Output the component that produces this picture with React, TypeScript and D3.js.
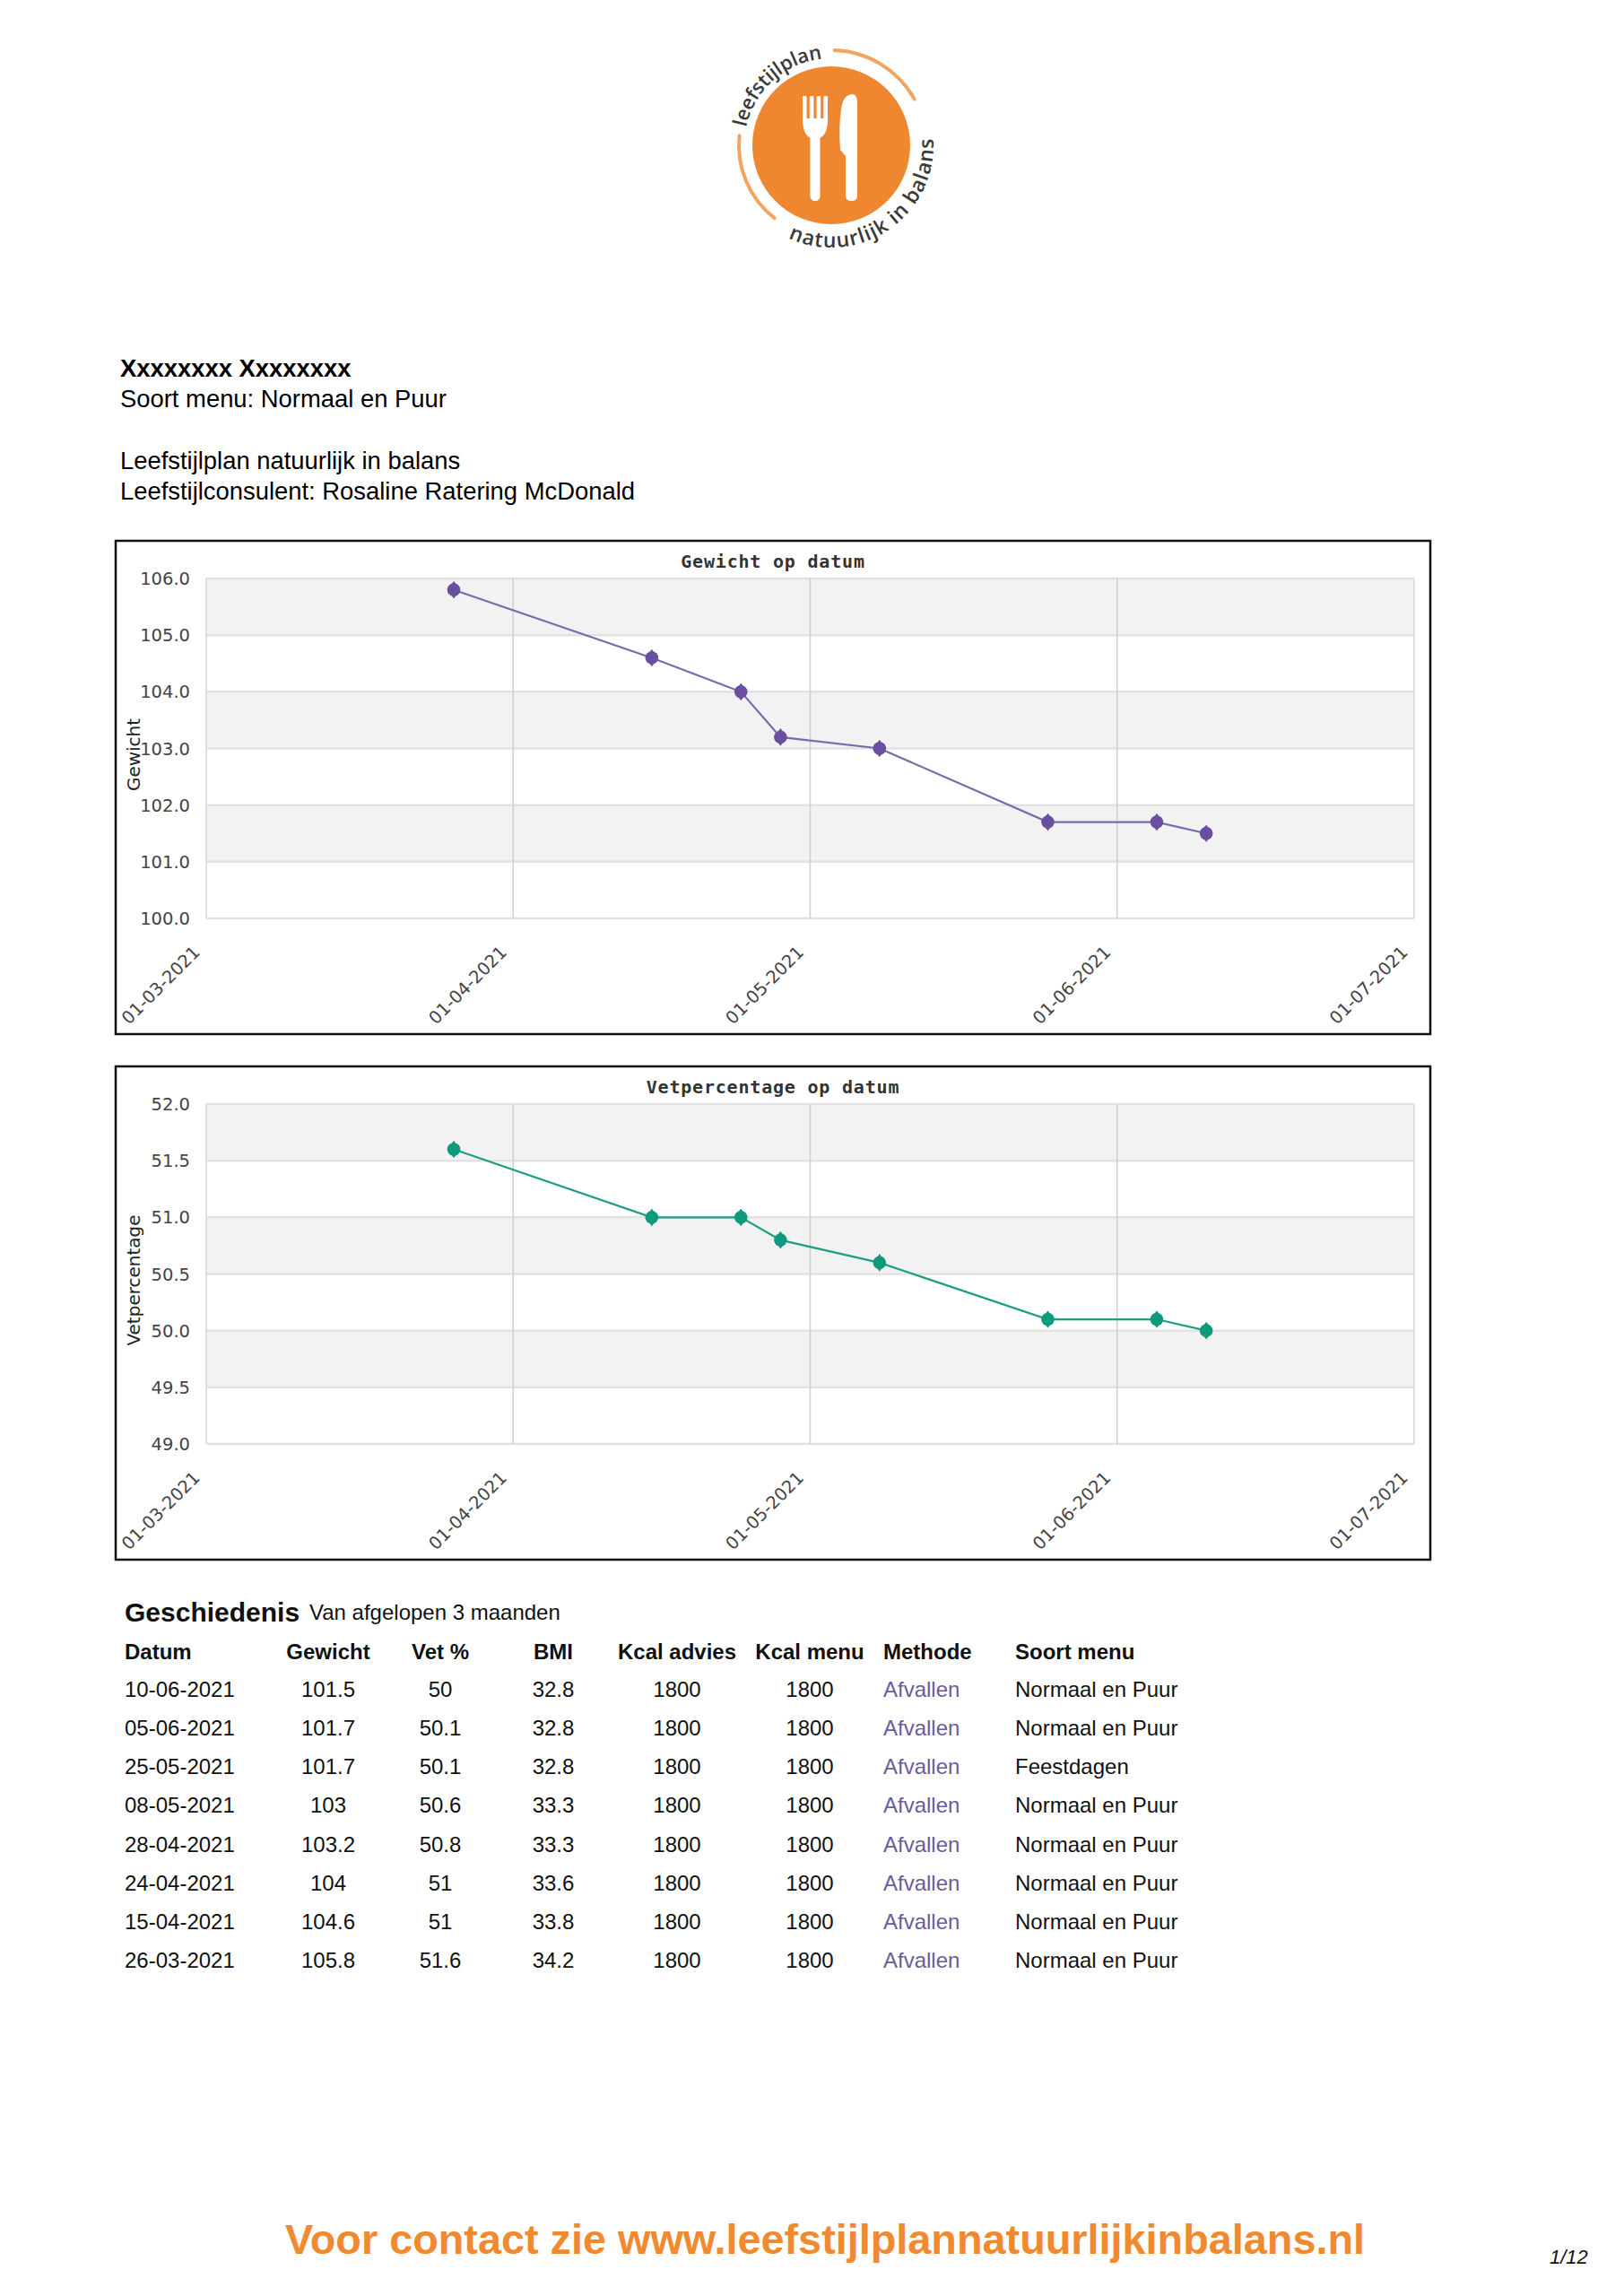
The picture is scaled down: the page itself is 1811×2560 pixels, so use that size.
import React from 'react';
import * as d3 from 'd3';

// ---------- data ----------
const dates = ['26-03-2021', '15-04-2021', '24-04-2021', '28-04-2021', '08-05-2021', '25-05-2021', '05-06-2021', '10-06-2021'];
const weights = [105.8, 104.6, 104, 103.2, 103, 101.7, 101.7, 101.5];
const fatPct = [51.6, 51, 51, 50.8, 50.6, 50.1, 50.1, 50];
const bmiValues = [34.2, 33.8, 33.6, 33.3, 33.3, 32.8, 32.8, 32.8];
const kcalAdvies = [1800, 1800, 1800, 1800, 1800, 1800, 1800, 1800];
const kcalMenu = [1800, 1800, 1800, 1800, 1800, 1800, 1800, 1800];
const methods = ['Afvallen', 'Afvallen', 'Afvallen', 'Afvallen', 'Afvallen', 'Afvallen', 'Afvallen', 'Afvallen'];
const menus = ['Normaal en Puur', 'Normaal en Puur', 'Normaal en Puur', 'Normaal en Puur', 'Normaal en Puur', 'Feestdagen', 'Normaal en Puur', 'Normaal en Puur'];

const weightTicks = [100, 101, 102, 103, 104, 105, 106];
const fatTicks = [49, 49.5, 50, 50.5, 51, 51.5, 52];
const monthTicks = ['01-03-2021', '01-04-2021', '01-05-2021', '01-06-2021', '01-07-2021'];
const tableHeaders = ['Datum', 'Gewicht', 'Vet %', 'BMI', 'Kcal advies', 'Kcal menu', 'Methode', 'Soort menu'];

const parse = d3.utcParse('%d-%m-%Y');
const fmtDate = d3.utcFormat('%d-%m-%Y');

const SANS = '"Liberation Sans", Arial, sans-serif';
const DJ = '"DejaVu Sans", sans-serif';
const MONO = '"DejaVu Sans Mono", monospace';

// ---------- chart ----------
type ChartProps = {
  frameTop: number;
  title: string;
  label: string;
  ticks: number[];
  values: number[];
  lineColor: string;
  markerColor: string;
};

function LineChart({ frameTop, title, label, ticks, values, lineColor, markerColor }: ChartProps) {
  const fx0 = 129, fx1 = 1595, fh = 550;
  const plotL = 230, plotR = 1577;
  const plotT = frameTop + 42, plotB = frameTop + 421;
  const x = d3.scaleUtc().domain([parse(monthTicks[0])!, parse(monthTicks[monthTicks.length - 1])!]).range([plotL, plotR]);
  const y = d3.scaleLinear().domain([ticks[0], ticks[ticks.length - 1]]).range([plotB, plotT]);
  const pts = values.map((v, i) => [x(parse(dates[i])!), y(v)] as [number, number]);
  const line = d3.line();
  const n = ticks.length;
  const fmt = d3.format('.1f');
  return (
    <g>
      <rect x={fx0} y={frameTop} width={fx1 - fx0} height={fh} fill="#fff" stroke="#111" strokeWidth={2.5} />
      {ticks.slice(0, -1).map((t, i) => {
        const gray = (n - 2 - i) % 2 === 0;
        return gray ? (
          <rect key={'b' + i} x={plotL} y={y(ticks[i + 1])} width={plotR - plotL} height={y(ticks[i]) - y(ticks[i + 1])} fill="#f2f2f2" />
        ) : null;
      })}
      {ticks.map((t, i) => (
        <line key={'h' + i} x1={plotL} x2={plotR} y1={y(t)} y2={y(t)} stroke="#e2e2e2" strokeWidth={2.5} />
      ))}
      {monthTicks.map((m, i) => (
        <line key={'v' + i} x1={x(parse(m)!)} x2={x(parse(m)!)} y1={plotT} y2={plotB} stroke={i === 0 || i === monthTicks.length - 1 ? '#e0e0e0' : '#cfcfcf'} strokeWidth={i === 0 || i === monthTicks.length - 1 ? 2 : 1.5} />
      ))}
      <text x={(fx0 + fx1) / 2} y={frameTop + 30} textAnchor="middle" fontFamily={MONO} fontWeight="bold" fontSize={20} letterSpacing={0.8} fill="#333">{title}</text>
      {ticks.map((t, i) => (
        <text key={'yt' + i} x={212} y={y(t)} dy="0.36em" textAnchor="end" fontFamily={DJ} fontSize={19.5} fill="#444">{fmt(t)}</text>
      ))}
      {monthTicks.map((m, i) => (
        <text key={'xt' + i} transform={`translate(${x(parse(m)!) - 6},${plotB + 39}) rotate(-45)`} textAnchor="end" fontFamily={DJ} fontSize={19.5} fill="#444">{fmtDate(parse(m)!)}</text>
      ))}
      <text transform={`translate(156,${(plotT + plotB) / 2 + 7}) rotate(-90)`} textAnchor="middle" fontFamily={DJ} fontSize={20} fill="#222">{label}</text>
      <path d={line(pts) || ''} fill="none" stroke={lineColor} strokeWidth={2.2} />
      {pts.map((p, i) => (
        <g key={'m' + i} transform={`translate(${p[0]},${p[1]})`} fill={markerColor}>
          <circle r={7.3} />
          <path d="M0,-9.8 L6.8,0 L0,9.8 L-6.8,0 Z" />
        </g>
      ))}
    </g>
  );
}

// ---------- logo ----------
const LC = { x: 927, y: 162 };
function polar(r: number, deg: number): [number, number] {
  const a = (deg * Math.PI) / 180;
  return [LC.x + r * Math.cos(a), LC.y + r * Math.sin(a)];
}
function arcPath(r: number, a0: number, a1: number) {
  const [x0, y0] = polar(r, a0);
  const [x1, y1] = polar(r, a1);
  const sweep = a1 > a0 ? 1 : 0;
  const large = Math.abs(a1 - a0) > 180 ? 1 : 0;
  return `M${x0},${y0} A${r},${r} 0 ${large} ${sweep} ${x1},${y1}`;
}

function Logo() {
  const orange = '#ef8630';
  const tines = [895, 902.8, 910.6, 918.4];
  return (
    <g>
      <defs>
        <path id="logoTop" d={arcPath(97, 192, 268)} />
        <path id="logoBottom" d={arcPath(114, 115, -6)} />
      </defs>
      <path d={arcPath(106, 272, 331)} fill="none" stroke="#f2a55f" strokeWidth={4} strokeLinecap="round" />
      <path d={arcPath(103, 186, 128)} fill="none" stroke="#f2a55f" strokeWidth={4} strokeLinecap="round" />
      <circle cx={LC.x} cy={LC.y} r={88} fill={orange} />
      {/* fork */}
      {tines.map((t, i) => (
        <rect key={i} x={t} y={107} width={4.6} height={28} rx={1} fill="#fff" />
      ))}
      <path d="M895,132 L923.2,132 Q923.2,150 914,154 L904,154 Q895,150 895,132 Z" fill="#fff" />
      <path d="M903.5,150 L914.5,150 L914.5,218 Q914.5,224 909,224 Q903.5,224 903.5,218 Z" fill="#fff" />
      {/* knife */}
      <path d="M938,122 Q940,106 950,105 Q956,105 956,114 L956,218 Q956,224 949.5,224 Q943,224 943,218 L943,174 L937,167 Q935,142 938,122 Z" fill="#fff" />
      <text fontFamily='"Open Sans", sans-serif' fontWeight={600} fontSize={22} fill="#3a3a3a">
        <textPath href="#logoTop" textLength={122} lengthAdjust="spacing">leefstijlplan</textPath>
      </text>
      <text fontFamily='"Open Sans", sans-serif' fontWeight={600} fontSize={23} fill="#3a3a3a">
        <textPath href="#logoBottom" textLength={236} lengthAdjust="spacing">natuurlijk in balans</textPath>
      </text>
    </g>
  );
}

// ---------- table ----------
const colX = [139, 366, 491, 617, 755, 903, 985, 1132];
const colAnchor = ['start', 'middle', 'middle', 'middle', 'middle', 'middle', 'start', 'start'];

function HistoryTable() {
  const order = d3.range(dates.length).reverse();
  const rowY = d3.scaleLinear().domain([0, 7]).range([1892, 2194]);
  return (
    <g fontFamily={SANS} fontSize={24} fill="#111">
      <text x={139} y={1808} fontWeight="bold" fontSize={30}>Geschiedenis</text>
      <text x={345} y={1806} fontSize={24}>Van afgelopen 3 maanden</text>
      {tableHeaders.map((h, c) => (
        <text key={'th' + c} x={colX[c]} y={1850} textAnchor={colAnchor[c] as any} fontWeight="bold">{h}</text>
      ))}
      {order.map((idx, r) => {
        const cells = [dates[idx], String(weights[idx]), String(fatPct[idx]), String(bmiValues[idx]), String(kcalAdvies[idx]), String(kcalMenu[idx]), methods[idx], menus[idx]];
        return cells.map((c, ci) => (
          <text key={`c${r}-${ci}`} x={colX[ci]} y={rowY(r)} textAnchor={colAnchor[ci] as any} fill={ci === 6 ? '#6b5b9e' : '#111'}>{c}</text>
        ));
      })}
    </g>
  );
}

export default function App() {
  return (
    <div style={{ position: 'absolute', left: 0, top: 0 }}>
      <svg width={1811} height={2560} viewBox="0 0 1811 2560" style={{ display: 'block', background: '#fff' }}>
        <rect x={0} y={0} width={1811} height={2560} fill="#fff" />
        <Logo />
        <g fontFamily={SANS} fontSize={27.4} fill="#000">
          <text x={134} y={420} fontWeight="bold">Xxxxxxxx Xxxxxxxx</text>
          <text x={134} y={454}>Soort menu: Normaal en Puur</text>
          <text x={134} y={523}>Leefstijlplan natuurlijk in balans</text>
          <text x={134} y={557}>Leefstijlconsulent: Rosaline Ratering McDonald</text>
        </g>
        <LineChart frameTop={603} title="Gewicht op datum" label="Gewicht" ticks={weightTicks} values={weights} lineColor="#7a6aac" markerColor="#6a4ea0" />
        <LineChart frameTop={1189} title="Vetpercentage op datum" label="Vetpercentage" ticks={fatTicks} values={fatPct} lineColor="#1f9e84" markerColor="#0f9a7e" />
        <HistoryTable />
        <text x={318} y={2513} fontFamily={SANS} fontWeight="bold" fontSize={46} fill="#f08a30" textLength={1204} lengthAdjust="spacingAndGlyphs">Voor contact zie www.leefstijlplannatuurlijkinbalans.nl</text>
        <text x={1728} y={2524} fontFamily={SANS} fontStyle="italic" fontSize={22} fill="#111">1/12</text>
      </svg>
    </div>
  );
}
